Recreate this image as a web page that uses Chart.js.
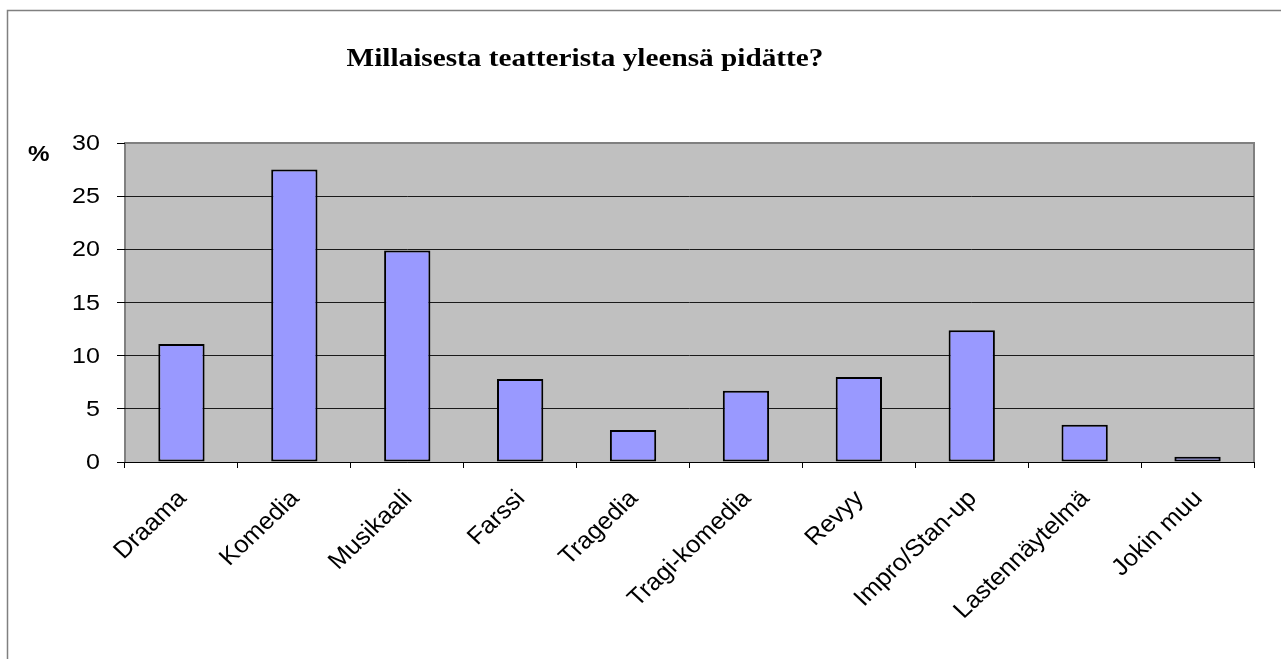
<!DOCTYPE html>
<html lang="fi">
<head>
  <meta charset="UTF-8">
  <title>Millaisesta teatterista yleensä pidätte?</title>
  <script src="https://cdn.jsdelivr.net/npm/chart.js"></script>
  <style>
    html, body { margin: 0; padding: 0; background: #fff; }
    #wrap { position: relative; width: 1281px; height: 659px; }
  </style>
</head>
<body>
<div id="wrap">
  <canvas id="myChart" width="1281" height="659"></canvas>
</div>

<script>
  // Data
  const categories = ["Draama", "Komedia", "Musikaali", "Farssi", "Tragedia",
                      "Tragi-komedia", "Revyy", "Impro/Stan-up", "Lastennäytelmä", "Jokin muu"];
  const percents = [11.1, 27.5, 19.9, 7.8, 3.0, 6.7, 8.0, 12.4, 3.5, 0.5];
  const yTicks = [0, 5, 10, 15, 20, 25, 30];
  const chartTitle = "Millaisesta teatterista yleensä pidätte?";
  const yUnit = "%";

  const SANS = '"Liberation Sans", Arial, sans-serif';
  const SERIF = '"Liberation Serif", "Times New Roman", serif';

  // text slightly wider than tall, like the old spreadsheet export
  function wideText(ctx, text, x, y, sx, angle) {
    ctx.save();
    ctx.translate(x, y);
    ctx.scale(sx, 1);
    if (angle) ctx.rotate(angle);
    ctx.fillText(text, 0, 0);
    ctx.restore();
  }

  // frame, grey plot area, title, % sign and axis labels
  const decorations = {
    id: 'decorations',
    beforeDraw(chart) {
      const { ctx, chartArea: a } = chart;
      ctx.save();
      ctx.fillStyle = '#c0c0c0';
      ctx.fillRect(a.left, a.top, a.right - a.left, a.bottom - a.top);
      ctx.strokeStyle = '#808080';
      ctx.lineWidth = 2;
      ctx.beginPath();
      ctx.moveTo(a.left, a.bottom);
      ctx.lineTo(a.left, a.top);
      ctx.lineTo(a.right, a.top);
      ctx.lineTo(a.right, a.bottom);
      ctx.stroke();
      // outer chart frame
      ctx.lineWidth = 1.5;
      ctx.beginPath();
      ctx.moveTo(7.5, 659);
      ctx.lineTo(7.5, 10.5);
      ctx.lineTo(1281, 10.5);
      ctx.stroke();
      ctx.restore();
    },
    afterDraw(chart) {
      const { ctx } = chart;
      const xs = chart.scales.x, ys = chart.scales.y;
      ctx.save();
      ctx.fillStyle = '#000';

      ctx.textBaseline = 'alphabetic';
      ctx.textAlign = 'center';
      ctx.font = 'bold 25px ' + SERIF;
      wideText(ctx, chartTitle, 585, 66, 1.17);

      ctx.textAlign = 'left';
      ctx.font = 'bold 22px ' + SANS;
      wideText(ctx, yUnit, 28, 161, 1.1);

      // y tick labels
      ctx.textAlign = 'right';
      ctx.textBaseline = 'middle';
      ctx.font = '22px ' + SANS;
      yTicks.forEach(v => {
        wideText(ctx, String(v), 100, ys.getPixelForValue(v) + 1, 1.14);
      });

      // rotated category labels
      ctx.font = '24px ' + SANS;
      categories.forEach((c, i) => {
        const x = xs.getPixelForTick(i);
        wideText(ctx, c, x + 1, xs.top + 33, 1.06, -Math.PI / 4);
      });
      ctx.restore();
    }
  };

  const config = {
    type: 'bar',
    data: {
      labels: categories,
      datasets: [{
        label: '%',
        data: percents,
        backgroundColor: '#9999ff',
        borderColor: '#000',
        borderWidth: 2,
        borderSkipped: false,
        categoryPercentage: 1,
        barPercentage: 0.41
      }]
    },
    options: {
      responsive: false,
      animation: false,
      layout: { padding: { top: 143, right: 27, left: 0, bottom: 0 } },
      plugins: {
        legend: { display: false },
        tooltip: { enabled: false }
      },
      scales: {
        x: {
          offset: true,
          grid: {
            offset: true,
            drawOnChartArea: false,
            drawTicks: true,
            tickLength: 6,
            color: '#000',
            lineWidth: 1
          },
          border: { display: true, color: '#000', width: 1 },
          ticks: {
            autoSkip: false,
            minRotation: 45,
            maxRotation: 45,
            color: 'rgba(0,0,0,0)',
            font: { family: SANS, size: 20 }
          },
          afterFit(scale) { scale.height = 197; }
        },
        y: {
          min: 0,
          max: 30,
          afterBuildTicks(scale) { scale.ticks = yTicks.map(v => ({ value: v })); },
          grid: {
            color: ctx => (ctx.tick && ctx.tick.value === 30) ? '#808080' : '#1a1a1a',
            lineWidth: 1,
            tickLength: 8,
            tickColor: '#000'
          },
          border: { display: false },
          ticks: {
            color: 'rgba(0,0,0,0)',
            font: { family: SANS, size: 21 }
          },
          afterFit(scale) { scale.width = 125; }
        }
      }
    },
    plugins: [decorations]
  };

  const ctx = document.getElementById('myChart').getContext('2d');
  const myChart = new Chart(ctx, config);
</script>
</body>
</html>
